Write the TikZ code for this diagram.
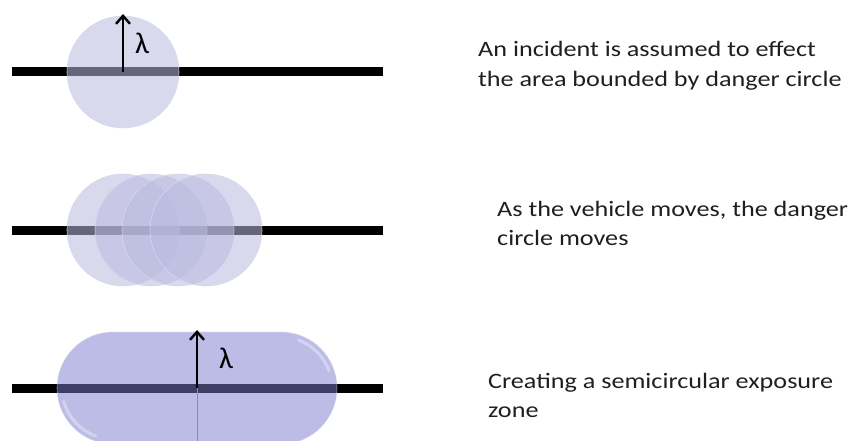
\documentclass[tikz,border=0pt]{standalone}
\usepackage{fontspec}
\setmainfont{Carlito}
\usetikzlibrary{arrows.meta}
\definecolor{zonecirc}{RGB}{186,186,224}
\definecolor{zoneedge}{RGB}{215,215,235}
\definecolor{zonefill}{RGB}{122,122,205}
\definecolor{axisline}{RGB}{135,135,215}
% wide caption text: Carlito stretched a little sideways
\newcommand{\captext}[1]{\scalebox{1.19}[1]{\fontsize{22}{29.5}\selectfont\begin{tabular}[t]{@{}l@{}}#1\end{tabular}}}
\tikzset{
  road/.style={line width=9pt, black},
  danger/.style={circle, minimum size=112pt, inner sep=0pt, fill=zonecirc, fill opacity=0.55, draw=zoneedge, draw opacity=0.9, line width=0.6pt},
  exposure/.style={rectangle, rounded corners=56pt, minimum width=280pt, minimum height=112pt, inner sep=0pt, fill=zonefill, fill opacity=0.5, draw=zoneedge, draw opacity=0.6, line width=0.6pt},
  gloss/.style={white, line width=3pt, opacity=0.35, line cap=round},
  radius arrow/.style={line width=2.2pt, -{Straight Barb[length=8pt, width=14pt, line width=2.4pt]}},
  lam/.style={font=\fontsize{30}{34}\selectfont, inner sep=0pt},
  caption/.style={anchor=base west, inner sep=0pt, text=black!88}
}
\begin{document}
\begin{tikzpicture}[x=1pt, y=-1pt]
  \useasboundingbox (0,0) rectangle (852,441);

  % --- single danger circle ---
  \coordinate (r1a) at (12,72);
  \coordinate (r1b) at (383,72);
  \draw[road] (r1a) -- (r1b);
  \node[danger] (c1) at (123,72) {};
  \coordinate (t1) at (123,14);
  \draw[radius arrow] (c1.center) -- (t1);
  \node[lam] (l1) at (142,43) {λ};
  \node[caption] (txt1) at (478,57) {\captext{An incident is assumed to effect\\the area bounded by danger circle}};

  % --- moving danger circle ---
  \coordinate (r2a) at (12,230);
  \coordinate (r2b) at (383,230);
  \draw[road] (r2a) -- (r2b);
  \node[danger] (m1) at (123,230) {};
  \node[danger] (m2) at (151,230) {};
  \node[danger] (m3) at (178,230) {};
  \node[danger] (m4) at (206,230) {};
  \node[caption] (txt2) at (497,216) {\captext{As the vehicle moves, the danger\\circle moves}};

  % --- resulting exposure zone ---
  \coordinate (r3a) at (12,388);
  \coordinate (r3b) at (383,388);
  \draw[road] (r3a) -- (r3b);
  \node[exposure] (zone) at (197,388) {};
  % glossy highlights inside the rounded ends
  \coordinate (lc) at (113,388);
  \coordinate (rc) at (281,388);
  \draw[gloss] ([shift={(195:51pt)}]lc) arc[start angle=195, end angle=250, radius=51pt];
  \draw[gloss] ([shift={(20:51pt)}]rc) arc[start angle=20, end angle=70, radius=51pt];
  \coordinate (zb) at (197,441);
  \draw[axisline, line width=1pt] (zone.center) -- (zb);
  \coordinate (t3) at (197,330);
  \draw[radius arrow] (zone.center) -- (t3);
  \node[lam] (l3) at (226,358) {λ};
  \node[caption] (txt3) at (488,388) {\captext{Creating a semicircular exposure\\zone}};
\end{tikzpicture}
\end{document}
